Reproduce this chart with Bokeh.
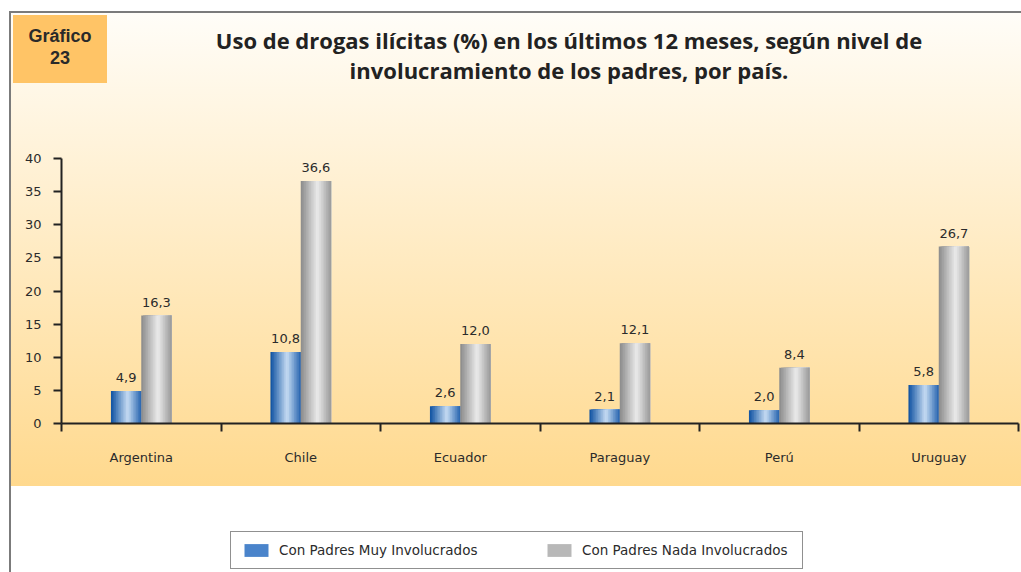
from bokeh.plotting import figure
from bokeh.layouts import column
from bokeh.models import (Range1d, FixedTicker, Legend, LegendItem, Div, ColumnDataSource)
from bokeh.transform import dodge
from bokeh.core.properties import value
from bokeh.embed import file_html
from bokeh.resources import INLINE

# ---------------- data ----------------
countries = ["Argentina", "Chile", "Ecuador", "Paraguay", "Perú", "Uruguay"]
muy_involucrados = [4.9, 10.8, 2.6, 2.1, 2.0, 5.8]
nada_involucrados = [16.3, 36.6, 12.0, 12.1, 8.4, 26.7]
series_names = ["Con Padres Muy Involucrados", "Con Padres Nada Involucrados"]
y_ticks = [0, 5, 10, 15, 20, 25, 30, 35, 40]
title_lines = ["Uso de drogas ilícitas (%) en los últimos 12 meses, según nivel de",
               "involucramiento de los padres, por país."]
badge_lines = ["Gráfico", "23"]

fmt = lambda v: f"{v:.1f}".replace(".", ",")
src = ColumnDataSource(dict(
    x=[i + 0.5 for i in range(len(countries))],
    muy=muy_involucrados,
    nada=nada_involucrados,
    muy_lbl=[fmt(v) for v in muy_involucrados],
    nada_lbl=[fmt(v) for v in nada_involucrados],
))

# ---------------- style helpers ----------------
def hex2rgb(h):
    h = h.lstrip("#")
    return tuple(int(h[i:i + 2], 16) for i in (0, 2, 4))

def grad(stops, t):
    for (t0, c0), (t1, c1) in zip(stops, stops[1:]):
        if t0 <= t <= t1:
            f = (t - t0) / (t1 - t0) if t1 > t0 else 0
            a, b = hex2rgb(c0), hex2rgb(c1)
            return "#%02x%02x%02x" % tuple(round(a[i] + (b[i] - a[i]) * f) for i in range(3))
    return stops[-1][1]

BLUE = [(0.0, "#0d50a0"), (0.55, "#c6dcf3"), (1.0, "#2563ae")]
GRAY = [(0.0, "#8a8a8a"), (0.55, "#ebebeb"), (1.0, "#999999")]

FONT = "DejaVu Sans"
TXT = "#2b2b2b"
W_PAGE = 1021

def clear(fig):
    fig.border_fill_color = None
    fig.background_fill_color = None
    fig.outline_line_color = None
    fig.grid.visible = False

# ---------------- header (badge + title) ----------------
head_html = (
    '<div style="position:relative;width:1021px;height:150px;">'
    '<div style="position:absolute;left:13px;top:15px;width:94px;height:68px;'
    'background:#ffc466;"></div>'
    '<div style="position:absolute;left:13px;top:25px;width:94px;text-align:center;'
    "font-family:'Liberation Sans';font-weight:bold;font-size:18px;line-height:22px;"
    'color:#2a2a2a;">' + "<br>".join(badge_lines) + '</div>'
    '<div style="position:absolute;left:169px;top:25px;width:800px;text-align:center;'
    "font-family:'Open Sans';font-weight:bold;font-size:22px;line-height:30px;"
    'color:#222222;white-space:nowrap;">' + "<br>".join(title_lines) + '</div>'
    '</div>'
)
head = Div(text=head_html, width=W_PAGE, height=150, margin=0)

# ---------------- chart ----------------
p = figure(width=W_PAGE, height=336, x_range=Range1d(0, 6), y_range=Range1d(0, 40),
           output_backend="svg", toolbar_location=None,
           min_border_left=61, min_border_right=3, min_border_top=8, min_border_bottom=63)
clear(p)

W = 0.19
N = 18
for key, off, stops in (("muy", -W / 2, BLUE), ("nada", W / 2, GRAY)):
    left = off - W / 2
    s = W / N
    for k in range(N):
        l = left + k * s
        width = W - k * s
        p.vbar(x=dodge("x", l + width / 2, range=p.x_range), top=key, width=width,
               source=src, fill_color=grad(stops, (k + 0.5) / N), line_color=None)

for key, off in (("muy", -W / 2), ("nada", W / 2)):
    p.text(x=dodge("x", off, range=p.x_range), y=key, text=key + "_lbl", source=src,
           y_offset=-9, text_align="center", text_baseline="bottom",
           text_font=value(FONT), text_font_size="13px", text_color=TXT)

xa = p.xaxis[0]
xa.ticker = FixedTicker(ticks=[i + 0.5 for i in range(len(countries))],
                        minor_ticks=list(range(len(countries) + 1)))
xa.major_label_overrides = {i + 0.5: c for i, c in enumerate(countries)}
xa.major_tick_out = 0
xa.major_tick_in = 0
xa.minor_tick_out = 8
xa.minor_tick_in = 0
xa.minor_tick_line_color = "#222222"
xa.minor_tick_line_width = 2
xa.axis_line_color = "#222222"
xa.axis_line_width = 2
xa.major_label_standoff = 18
xa.major_label_text_font = FONT
xa.major_label_text_font_size = "13px"
xa.major_label_text_color = TXT

ya = p.yaxis[0]
ya.ticker = FixedTicker(ticks=y_ticks, minor_ticks=[])
ya.major_tick_out = 8
ya.major_tick_in = 0
ya.major_tick_line_color = "#222222"
ya.major_tick_line_width = 2
ya.axis_line_color = "#222222"
ya.axis_line_width = 2
ya.major_label_standoff = 12
ya.major_label_text_font = FONT
ya.major_label_text_font_size = "13px"
ya.major_label_text_color = TXT

# ---------------- footer (legend) ----------------
foot = figure(width=W_PAGE, height=86, x_range=Range1d(0, 1), y_range=Range1d(0, 1),
              output_backend="svg", toolbar_location=None,
              x_axis_location=None, y_axis_location=None, min_border=0)
clear(foot)
sw_blue = foot.vbar(x=[-5], top=[-5], bottom=[-6], width=0.1,
                    fill_color="#4a84cb", line_color=None)
sw_gray = foot.vbar(x=[-5], top=[-5], bottom=[-6], width=0.1,
                    fill_color="#b8b8b8", line_color=None)
legend = Legend(items=[LegendItem(label=series_names[0], renderers=[sw_blue]),
                       LegendItem(label=series_names[1], renderers=[sw_gray])],
                orientation="horizontal", location=(169, 3),
                glyph_width=30, glyph_height=16, label_standoff=8, spacing=55,
                label_width=210, padding=10, margin=0,
                border_line_color="#222222", border_line_width=1.5,
                background_fill_color="#ffffff", background_fill_alpha=1,
                label_text_font=FONT, label_text_font_size="13.5px", label_text_color=TXT)
foot.add_layout(legend)

page = column(head, p, foot, spacing=0)
page.styles = {"background":
               "linear-gradient(#7b7b7b,#7b7b7b) 9px 11px / 2px 561px no-repeat, "
               "linear-gradient(#7b7b7b,#7b7b7b) 9px 11px / 1012px 2px no-repeat, "
               "linear-gradient(to bottom, #fffdf8, #ffd98e) 11px 13px / 1010px 473px no-repeat, "
               "#ffffff"}

open("out.html", "w").write(file_html(page, INLINE))
